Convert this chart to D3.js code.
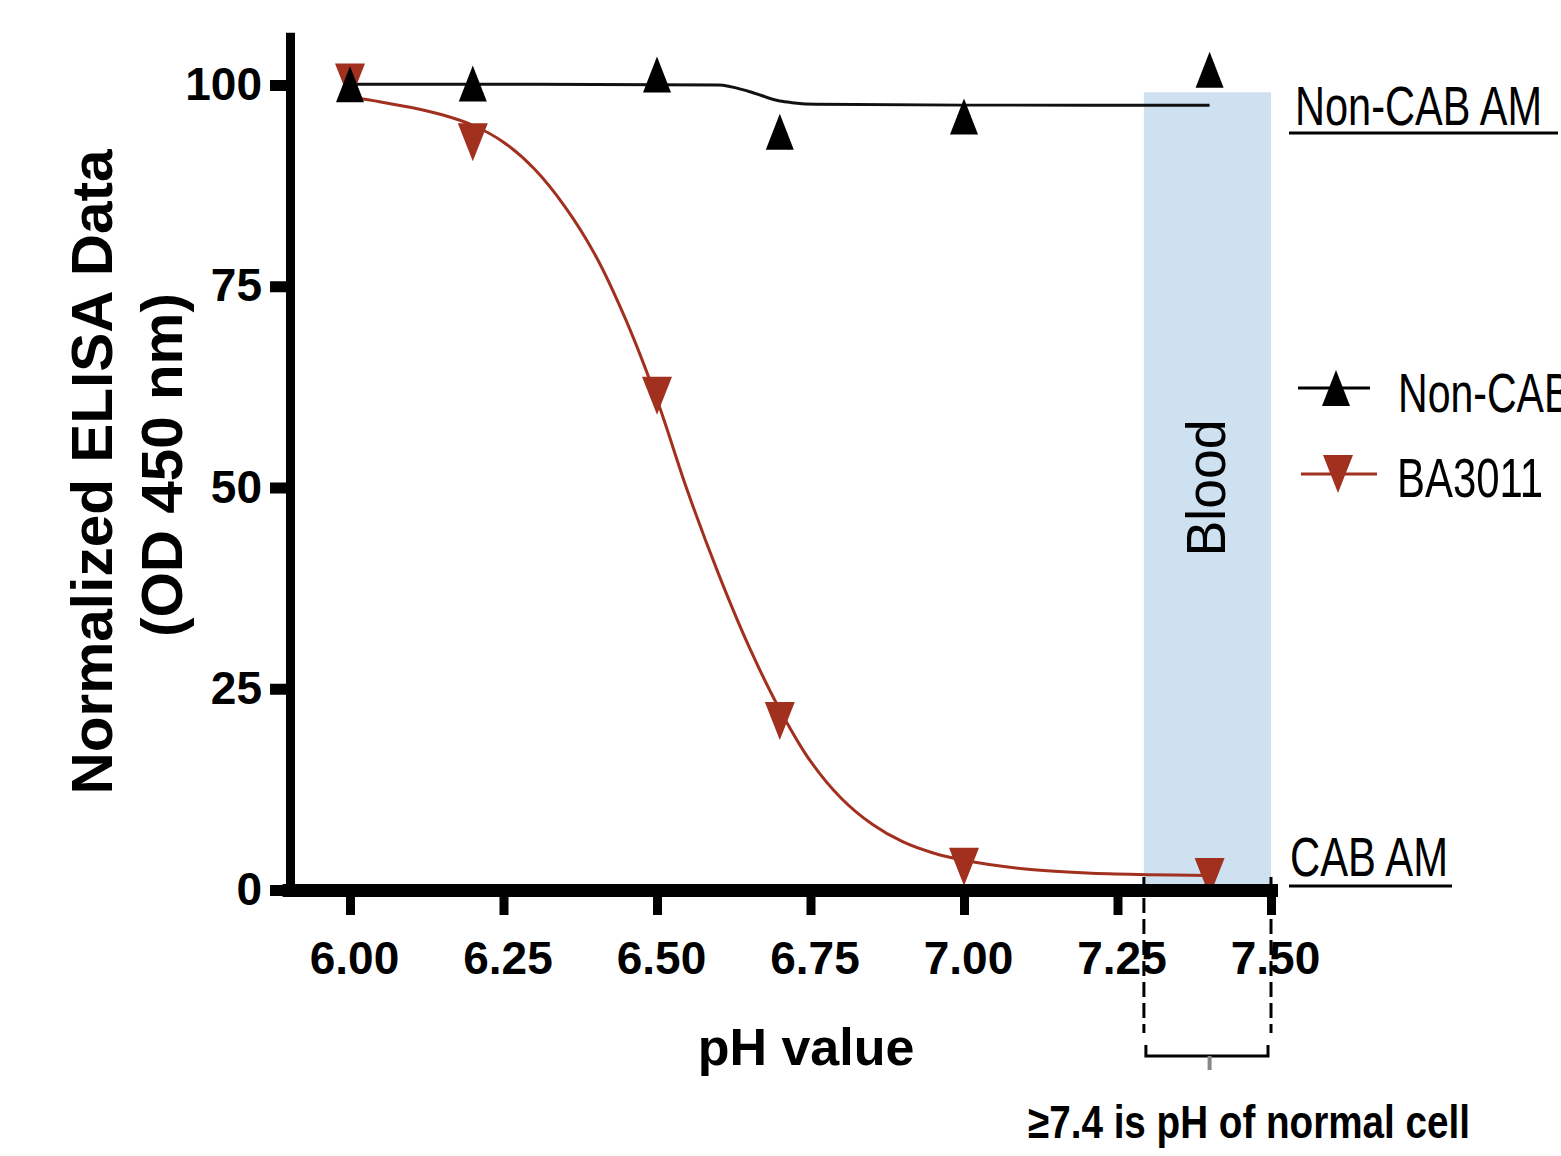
<!DOCTYPE html>
<html>
<head>
<meta charset="utf-8">
<script src="https://cdn.jsdelivr.net/npm/d3@7"></script>
<style>
  body { margin: 0; background: #fff; }
  svg { display: block; font-family: "Liberation Sans", Arial, sans-serif; }
</style>
</head>
<body>
<div id="chart"></div>
<script>
// DATA
const phTicks = [6.0, 6.25, 6.5, 6.75, 7.0, 7.25, 7.5];
const valueTicks = [0, 25, 50, 75, 100];

// measured points
const phPoints = [6.0, 6.2, 6.5, 6.7, 7.0, 7.4];
const nonCabValues = [100.1, 100.2, 101.3, 94.2, 96.1, 101.9];
const ba3011Values = [100.3, 92.9, 61.4, 21.0, 2.9, 1.6];

// fitted curves
const nonCabFitPh = [6.0, 6.3, 6.6, 6.65, 6.7, 6.72, 6.76, 7.0, 7.4];
const nonCabFitValues = [100.1, 100.1, 100.0, 99.2, 98.0, 97.8, 97.6, 97.5, 97.5];
const baFitPh = [6.0, 6.05, 6.1, 6.15, 6.2, 6.25, 6.3, 6.35, 6.4, 6.45, 6.5, 6.55, 6.6, 6.65, 6.7, 6.75, 6.8, 6.85, 6.9, 6.95, 7.0, 7.1, 7.2, 7.3, 7.4];
const baFitValues = [98.5, 97.9, 97.2, 96.3, 95.0, 92.9, 89.6, 84.9, 78.8, 70.7, 60.9, 49.5, 39.3, 30.2, 22.4, 16.0, 11.4, 8.2, 6.0, 4.6, 3.7, 2.6, 2.1, 1.9, 1.8];

// blood pH range shown as band
const bloodRange = [7.293, 7.5];
const bloodTop = 99.1;

const RED = "#a2301f";

// CHART
const width = 1561, height = 1156;
const svg = d3.select("#chart").append("svg")
  .attr("width", width)
  .attr("height", height);

const x = d3.scaleLinear().domain([5.9, 7.5]).range([288.6, 1271]);
const y = d3.scaleLinear().domain([0, 106]).range([890, 890 - 106 * 8.05]);

// blood band
svg.append("rect")
  .attr("x", x(bloodRange[0]))
  .attr("y", y(bloodTop))
  .attr("width", x(bloodRange[1]) - x(bloodRange[0]))
  .attr("height", y(0) - y(bloodTop))
  .attr("fill", "#cde1f1");

svg.append("text")
  .attr("transform", "translate(1225,488) rotate(-90)")
  .attr("text-anchor", "middle")
  .attr("font-size", 56)
  .attr("textLength", 137)
  .attr("lengthAdjust", "spacingAndGlyphs")
  .text("Blood");

// dashed guides under the band
bloodRange.forEach(p => {
  svg.append("line")
    .attr("x1", x(p)).attr("x2", x(p))
    .attr("y1", 877).attr("y2", 1033)
    .attr("stroke", "#000")
    .attr("stroke-width", 3)
    .attr("stroke-dasharray", "15,6");
});

// bracket
const bx0 = x(bloodRange[0]) + 2, bx1 = x(bloodRange[1]) - 3, by = 1056;
svg.append("path")
  .attr("d", `M${bx0},${by - 11}V${by}H${bx1}V${by - 11}`)
  .attr("fill", "none")
  .attr("stroke", "#000")
  .attr("stroke-width", 3);
svg.append("line")
  .attr("x1", x(7.4)).attr("x2", x(7.4))
  .attr("y1", by).attr("y2", by + 14)
  .attr("stroke", "#888")
  .attr("stroke-width", 4);

svg.append("text")
  .attr("x", 1028).attr("y", 1138)
  .attr("font-size", 46)
  .attr("font-weight", "bold")
  .attr("textLength", 442)
  .attr("lengthAdjust", "spacingAndGlyphs")
  .text("\u22657.4 is pH of normal cell");

// curves
const line = d3.line()
  .x(d => x(d[0]))
  .y(d => y(d[1]))
  .curve(d3.curveCatmullRom.alpha(0.5));

svg.append("path")
  .attr("d", line.curve(d3.curveMonotoneX)(nonCabFitPh.map((p, i) => [p, nonCabFitValues[i]])))
  .attr("fill", "none")
  .attr("stroke", "#111")
  .attr("stroke-width", 3);

svg.append("path")
  .attr("d", line.curve(d3.curveCatmullRom.alpha(0.5))(baFitPh.map((p, i) => [p, baFitValues[i]])))
  .attr("fill", "none")
  .attr("stroke", RED)
  .attr("stroke-width", 3);

// triangle markers, centred on their bounding box
function tri(up, w, h) {
  return up
    ? `M0,${-h / 2}L${w / 2},${h / 2}L${-w / 2},${h / 2}Z`
    : `M0,${h / 2}L${w / 2},${-h / 2}L${-w / 2},${-h / 2}Z`;
}

svg.append("g").selectAll("path")
  .data(phPoints.map((p, i) => [p, ba3011Values[i]]))
  .enter().append("path")
  .attr("transform", d => `translate(${x(d[0])},${y(d[1])})`)
  .attr("d", tri(false, 30, 38))
  .attr("fill", RED);

svg.append("g").selectAll("path")
  .data(phPoints.map((p, i) => [p, nonCabValues[i]]))
  .enter().append("path")
  .attr("transform", d => `translate(${x(d[0])},${y(d[1])})`)
  .attr("d", tri(true, 28, 36))
  .attr("fill", "#000");

// axes
const xAxis = svg.append("g")
  .attr("transform", "translate(0,890)")
  .call(d3.axisBottom(x).tickValues(phTicks).tickSize(25).tickSizeOuter(0).tickFormat(d3.format(".2f")));
xAxis.select(".domain").attr("stroke-width", 13).attr("stroke-linecap", "square");
xAxis.selectAll(".tick line").attr("stroke-width", 9);
xAxis.selectAll(".tick text")
  .attr("y", 84).attr("dy", 0).attr("dx", 4)
  .attr("font-size", 46)
  .attr("font-weight", "bold")
  .attr("font-family", "Liberation Sans, Arial, sans-serif")
  .attr("fill", "#000");

const yAxis = svg.append("g")
  .attr("transform", "translate(290,0)")
  .call(d3.axisLeft(y).tickValues(valueTicks).tickSize(20).tickSizeOuter(0));
yAxis.select(".domain").attr("stroke-width", 9).attr("stroke-linecap", "square");
yAxis.selectAll(".tick line").attr("stroke-width", 11);
yAxis.selectAll(".tick text")
  .attr("x", -28)
  .attr("font-size", 46)
  .attr("font-weight", "bold")
  .attr("font-family", "Liberation Sans, Arial, sans-serif")
  .attr("fill", "#000");

// axis titles
svg.append("text")
  .attr("x", 806).attr("y", 1065)
  .attr("text-anchor", "middle")
  .attr("font-size", 52)
  .attr("font-weight", "bold")
  .text("pH value");

svg.append("text")
  .attr("transform", "translate(112,472) rotate(-90)")
  .attr("text-anchor", "middle")
  .attr("font-size", 57)
  .attr("font-weight", "bold")
  .attr("textLength", 645)
  .attr("lengthAdjust", "spacingAndGlyphs")
  .text("Normalized ELISA Data");

svg.append("text")
  .attr("transform", "translate(182,465) rotate(-90)")
  .attr("text-anchor", "middle")
  .attr("font-size", 57)
  .attr("font-weight", "bold")
  .attr("textLength", 344)
  .attr("lengthAdjust", "spacingAndGlyphs")
  .text("(OD 450 nm)");

// right side labels
const sideLabels = [
  { text: "Non-CAB AM", x: 1295, y: 125, len: 247, ux0: 1289, ux1: 1558, uy: 133 },
  { text: "CAB AM", x: 1290, y: 876, len: 158, ux0: 1289, ux1: 1452, uy: 886 }
];
sideLabels.forEach(l => {
  svg.append("text")
    .attr("x", l.x).attr("y", l.y)
    .attr("font-size", 55)
    .attr("textLength", l.len)
    .attr("lengthAdjust", "spacingAndGlyphs")
    .text(l.text);
  svg.append("line")
    .attr("x1", l.ux0).attr("x2", l.ux1)
    .attr("y1", l.uy).attr("y2", l.uy)
    .attr("stroke", "#000")
    .attr("stroke-width", 3);
});

// legend (first entry runs past the right edge, as in the original)
const legendItems = [
  { name: "Non-CAB AM", color: "#000", up: true, lx0: 1298, lx1: 1370, cx: 1336, cy: 388, ty: 412, tx: 1398, len: 244 },
  { name: "BA3011", color: RED, up: false, lx0: 1301, lx1: 1377, cx: 1338, cy: 474, ty: 497, tx: 1397, len: 146 }
];
legendItems.forEach(d => {
  svg.append("line")
    .attr("x1", d.lx0).attr("x2", d.lx1)
    .attr("y1", d.cy).attr("y2", d.cy)
    .attr("stroke", d.color)
    .attr("stroke-width", 3);
  svg.append("path")
    .attr("transform", `translate(${d.cx},${d.cy})`)
    .attr("d", d.up ? tri(true, 28, 36) : tri(false, 30, 38))
    .attr("fill", d.color);
  svg.append("text")
    .attr("x", d.tx).attr("y", d.ty)
    .attr("font-size", 55)
    .attr("textLength", d.len)
    .attr("lengthAdjust", "spacingAndGlyphs")
    .text(d.name);
});
</script>
</body>
</html>
